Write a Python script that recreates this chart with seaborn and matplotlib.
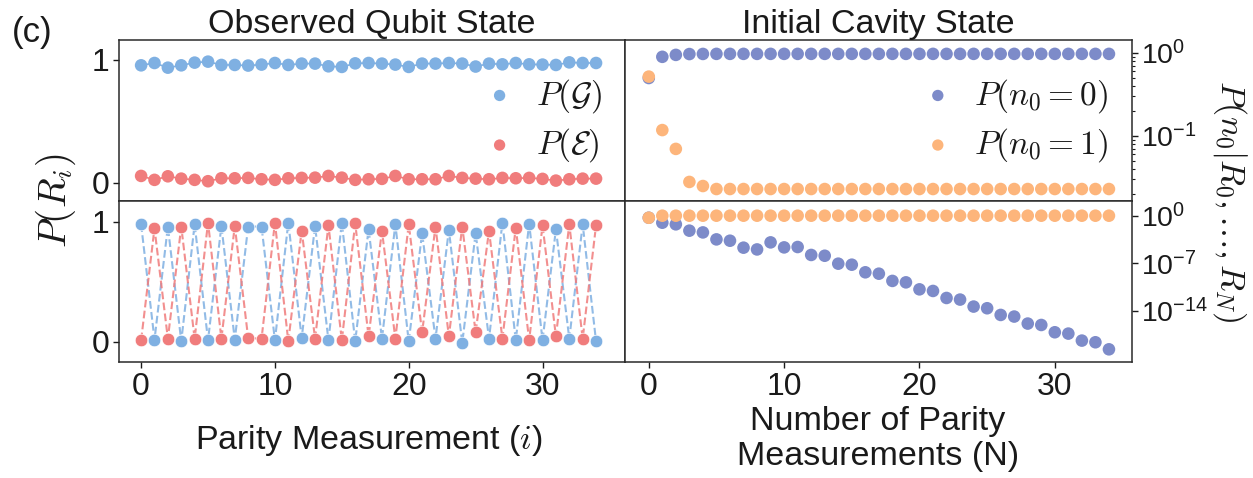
import numpy as np
import matplotlib
matplotlib.use('Agg')
import matplotlib.pyplot as plt
import seaborn as sns
from matplotlib.ticker import FixedLocator, LogLocator, NullFormatter, NullLocator

# ---------------- data ----------------
meas_idx = list(range(35))

# top-left: observed qubit state probabilities
obs_pg = [0.954, 0.973, 0.935, 0.954, 0.976, 0.984, 0.957, 0.957, 0.952, 0.960,
          0.973, 0.957, 0.968, 0.968, 0.946, 0.941, 0.970, 0.973, 0.968, 0.960,
          0.941, 0.968, 0.968, 0.973, 0.968, 0.944, 0.968, 0.962, 0.973, 0.962,
          0.960, 0.957, 0.978, 0.973, 0.973]
obs_pe = [0.054, 0.022, 0.051, 0.032, 0.022, 0.011, 0.035, 0.035, 0.038, 0.027,
          0.022, 0.035, 0.038, 0.040, 0.054, 0.040, 0.022, 0.027, 0.030, 0.054,
          0.027, 0.027, 0.027, 0.054, 0.038, 0.032, 0.027, 0.038, 0.035, 0.038,
          0.030, 0.016, 0.027, 0.032, 0.032]

# bottom-left: alternating sequence
seq_pg = [0.981, 0.019, 0.962, 0.005, 0.981, 0.014, 0.967, 0.019, 0.962, 0.962,
          0.014, 0.995, 0.033, 0.967, 0.014, 0.995, 0.005, 0.940, 0.027, 0.981,
          0.005, 0.907, 0.027, 0.934, -0.008, 0.907, 0.027, 0.995, 0.014, 0.986,
          0.014, 0.940, 0.027, 0.981, 0.005]
seq_pe = [0.014, 0.948, 0.027, 0.962, 0.027, 0.995, 0.027, 0.967, 0.033, 0.027,
          0.995, 0.005, 0.929, 0.027, 0.973, 0.014, 0.989, 0.047, 0.926, 0.027,
          0.981, 0.080, 0.962, 0.047, 0.962, 0.080, 0.926, 0.027, 0.953, 0.014,
          0.973, 0.047, 0.981, 0.027, 0.973]

# top-right: initial cavity state posterior
cav_p0 = [0.50, 0.90, 0.95, 0.972, 0.975] + [0.977] * 30
cav_p1 = [0.52, 0.118, 0.070, 0.028, 0.025] + [0.023] * 30

# bottom-right
seq_p0 = [5.0e-1, 9.3e-2, 5.4e-2, 6.3e-3, 3.5e-3, 3.3e-4, 2.1e-4, 2.0e-5, 1.1e-5, 1.2e-4,
          2.2e-5, 2.5e-5, 1.7e-6, 1.3e-6, 8.9e-8, 6.3e-8, 4.8e-9, 3.0e-9, 2.6e-10, 1.6e-10,
          1.5e-11, 8.7e-12, 8.1e-13, 4.7e-13, 4.4e-14, 2.5e-14, 2.6e-15, 1.5e-15, 1.4e-16, 8.7e-17,
          7.4e-18, 4.7e-18, 4.4e-19, 2.5e-19, 2.3e-20]
seq_p1 = [0.5] + [1.0] * 34

x_ticks = [0, 10, 20, 30]

# ---------------- style ----------------
sns.set_theme(style='ticks')
plt.rcParams['font.family'] = ['Liberation Sans', 'DejaVu Sans']
plt.rcParams['mathtext.fontset'] = 'cm'
plt.rcParams['axes.edgecolor'] = '#2a2a2a'
plt.rcParams['xtick.color'] = '#1a1a1a'
plt.rcParams['ytick.color'] = '#1a1a1a'
plt.rcParams['text.color'] = '#1a1a1a'

C_G = '#7fb0e2'
C_E = '#f07c7c'
C_N0 = '#7d8bc9'
C_N1 = '#fdb57b'

TICK_FS = 23
TXT_FS = 24.5
MS = 82

fig = plt.figure(figsize=(12.53, 4.78), dpi=100)
gs = fig.add_gridspec(2, 2, left=0.095, right=0.9034, top=0.9163, bottom=0.2427,
                      hspace=0, wspace=0)
ax_tl = fig.add_subplot(gs[0, 0])
ax_bl = fig.add_subplot(gs[1, 0])
ax_tr = fig.add_subplot(gs[0, 1])
ax_br = fig.add_subplot(gs[1, 1])

# ----- top-left -----
sns.lineplot(x=meas_idx, y=obs_pg, ax=ax_tl, color=C_G, lw=1.2, legend=False)
sns.lineplot(x=meas_idx, y=obs_pe, ax=ax_tl, color=C_E, lw=1.2, legend=False)
sns.scatterplot(x=meas_idx, y=obs_pg, ax=ax_tl, color=C_G, s=MS, edgecolor='none',
                label=r'$P(\mathcal{G})$', zorder=3)
sns.scatterplot(x=meas_idx, y=obs_pe, ax=ax_tl, color=C_E, s=MS, edgecolor='none',
                label=r'$P(\mathcal{E})$', zorder=3)
ax_tl.set_ylim(-0.15, 1.16)
ax_tl.set_yticks([0, 1])
ax_tl.set_yticklabels(['0', '1'])

# ----- bottom-left -----
sns.lineplot(x=meas_idx, y=seq_pg, ax=ax_bl, color=C_G, lw=1.5, ls='--', alpha=0.85,
             legend=False)
sns.lineplot(x=meas_idx, y=seq_pe, ax=ax_bl, color=C_E, lw=1.5, ls='--', alpha=0.85,
             legend=False)
sns.scatterplot(x=meas_idx, y=seq_pg, ax=ax_bl, color=C_G, s=MS, edgecolor='white',
                linewidth=0.5, zorder=3, legend=False)
sns.scatterplot(x=meas_idx, y=seq_pe, ax=ax_bl, color=C_E, s=MS, edgecolor='white',
                linewidth=0.5, zorder=3, legend=False)
ax_bl.set_ylim(-0.167, 1.175)
ax_bl.set_yticks([0, 1])
ax_bl.set_yticklabels(['0', '1'])

# ----- top-right -----
sns.scatterplot(x=meas_idx, y=cav_p0, ax=ax_tr, color=C_N0, s=MS, edgecolor='none',
                label=r'$P(n_0=0)$', zorder=3)
sns.scatterplot(x=meas_idx, y=cav_p1, ax=ax_tr, color=C_N1, s=MS, edgecolor='none',
                label=r'$P(n_0=1)$', zorder=4)
ax_tr.set_yscale('log')
ax_tr.set_ylim(0.0165, 1.435)
ax_tr.yaxis.set_major_locator(FixedLocator([1e-1, 1e0]))
ax_tr.set_yticklabels([r'$\mathregular{10^{-1}}$', r'$\mathregular{10^{0}}$'])
ax_tr.yaxis.set_minor_locator(LogLocator(base=10, subs=np.arange(2, 10) * 0.1 * 10, numticks=20))
ax_tr.yaxis.set_minor_formatter(NullFormatter())

# ----- bottom-right -----
sns.scatterplot(x=meas_idx, y=seq_p0, ax=ax_br, color=C_N0, s=MS, edgecolor='none',
                zorder=3, legend=False)
sns.scatterplot(x=meas_idx, y=seq_p1, ax=ax_br, color=C_N1, s=MS, edgecolor='none',
                zorder=4, legend=False)
ax_br.set_yscale('log')
ax_br.set_ylim(10 ** -21.5, 10 ** 2.16)
ax_br.yaxis.set_major_locator(FixedLocator([1e-14, 1e-7, 1e0]))
ax_br.set_yticklabels([r'$\mathregular{10^{-14}}$', r'$\mathregular{10^{-7}}$',
                       r'$\mathregular{10^{0}}$'])
ax_br.yaxis.set_minor_locator(NullLocator())

for ax in (ax_tr, ax_br):
    ax.yaxis.tick_right()
    ax.yaxis.set_label_position('right')

for ax in (ax_tl, ax_bl):
    ax.set_xlim(-1.65, 36.2)
for ax in (ax_tr, ax_br):
    ax.set_xlim(-1.72, 35.7)

for ax in (ax_tl, ax_tr):
    ax.set_xticks([])
for ax in (ax_bl, ax_br):
    ax.set_xticks(x_ticks)
    ax.set_xticklabels([str(t) for t in x_ticks])

for ax in (ax_tl, ax_bl, ax_tr, ax_br):
    ax.set_xlabel('')
    ax.set_ylabel('')
    for sp in ax.spines.values():
        sp.set_visible(True)
        sp.set_linewidth(1.1)
    ax.tick_params(axis='both', which='major', labelsize=TICK_FS, length=4, width=1, pad=3)
    ax.tick_params(axis='y', which='minor', length=2.2, width=0.8)
for ax in (ax_tr, ax_br):
    ax.tick_params(axis='y', which='major', labelsize=20.5, pad=2.5)

for ax in (ax_tl, ax_tr):
    ax.legend(loc='center right', bbox_to_anchor=(1.0, 0.5), frameon=False,
              fontsize=24, handletextpad=0.1, labelspacing=0.35, borderaxespad=0.3,
              markerscale=0.9)

# ----- texts -----
fig.text(0.0096, 0.912, '(c)', fontsize=25, ha='left', va='baseline')
fig.text(372 / 1253, 0.931, 'Observed Qubit State', fontsize=TXT_FS, ha='center',
         va='baseline')
fig.text(878 / 1253, 0.931, 'Initial Cavity State', fontsize=TXT_FS, ha='center',
         va='baseline')
fig.text(369 / 1253, 1 - 449 / 478, r'Parity Measurement ($i$)', fontsize=TXT_FS,
         ha='center', va='baseline')
fig.text(878 / 1253, 1 - 430 / 478, 'Number of Parity', fontsize=TXT_FS,
         ha='center', va='baseline')
fig.text(878 / 1253, 1 - 465 / 478, 'Measurements (N)', fontsize=TXT_FS,
         ha='center', va='baseline')
fig.text(56 / 1253, 1 - 201 / 478, r'$P(R_i)$', fontsize=28, rotation=90,
         ha='center', va='center')
fig.text(1230 / 1253, 1 - 201 / 478, r'$P(n_0|R_0,\ldots,R_N)$', fontsize=24.5,
         rotation=270, ha='center', va='center')

fig.savefig('out.png', dpi=100)
